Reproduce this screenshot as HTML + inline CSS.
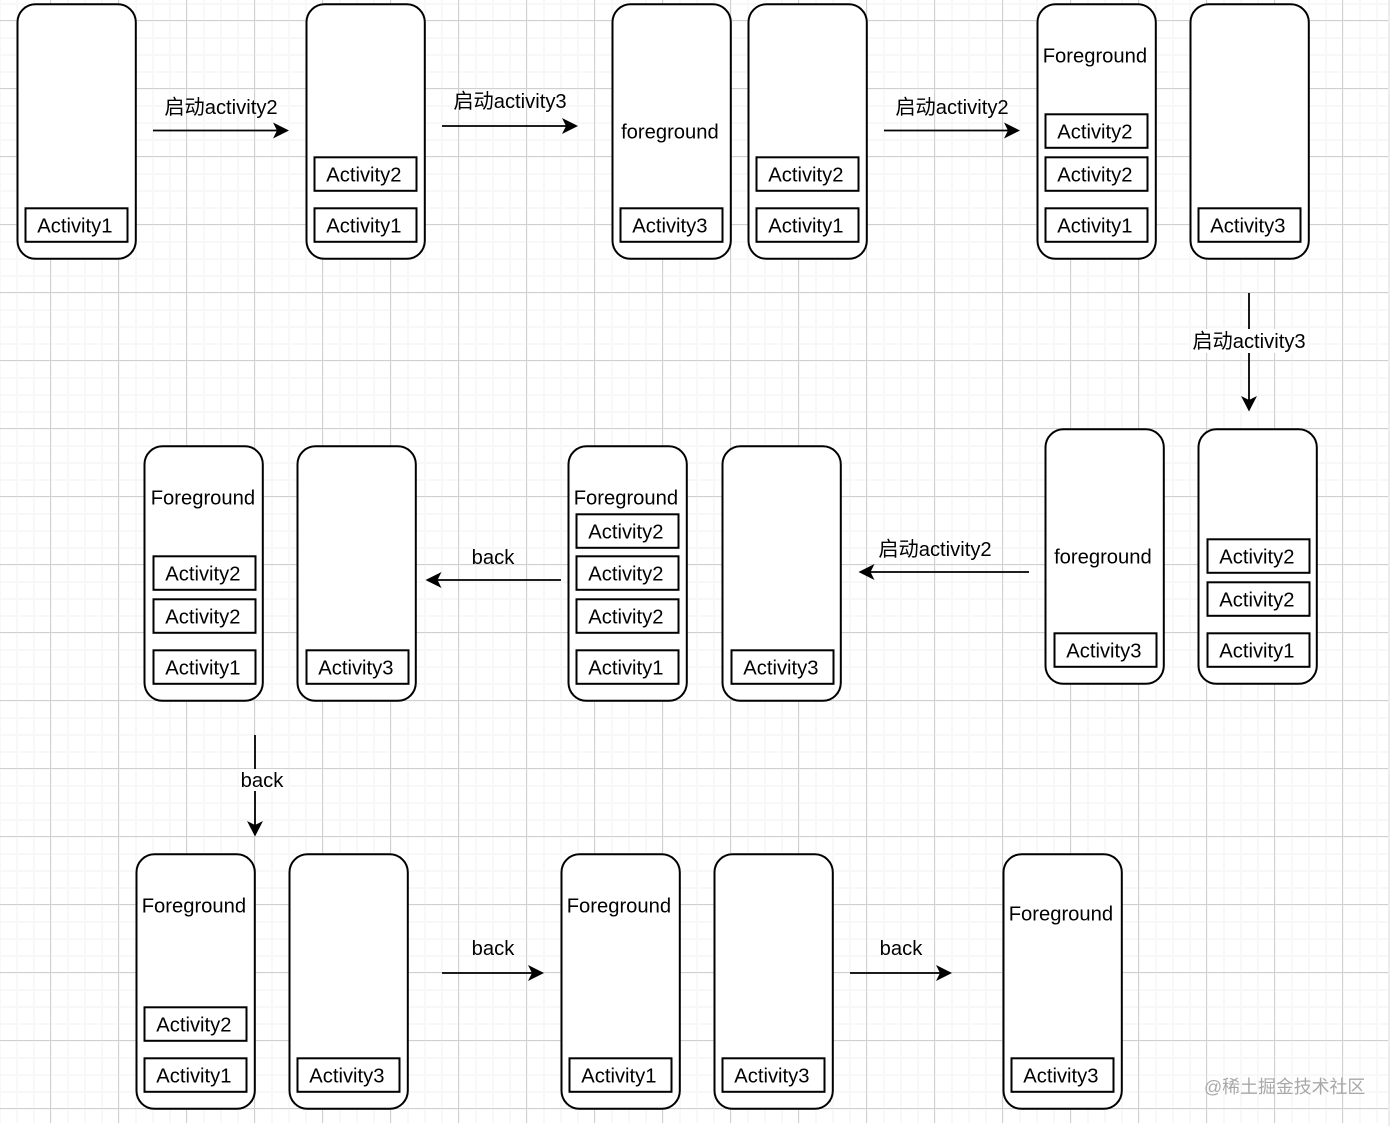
<!DOCTYPE html>
<html>
<head>
<meta charset="utf-8">
<style>
html,body{margin:0;padding:0;background:#fff;}
#g{position:absolute;left:0;top:0;width:1388px;height:1123px;
background-image:
linear-gradient(to right,#d0d0d0 0,#d0d0d0 1px,transparent 1px),
linear-gradient(to bottom,#d0d0d0 0,#d0d0d0 1px,transparent 1px),
linear-gradient(to right,#f8f8f8 0,#f8f8f8 2px,transparent 2px),
linear-gradient(to bottom,#f8f8f8 0,#f8f8f8 2px,transparent 2px);
background-size:68px 68px,68px 68px,17px 17px,17px 17px;
background-position:50px 0,0 20px,50px 0,0 20px;}
#e{position:absolute;left:1388px;top:0;width:2px;height:1126px;background:#ececec;}
svg{position:absolute;left:0;top:0;filter:blur(0.35px);}
text{font-family:"Liberation Sans","Noto Sans CJK SC",sans-serif;font-size:20.2px;fill:#000;text-anchor:middle;}
g text{transform:translate(-0.6px,-0.6px);}
.p{fill:#fff;stroke:#000;stroke-width:2;}
.b{fill:#fff;stroke:#000;stroke-width:2;}
.l{stroke:#000;stroke-width:1.8;fill:none;}
.h{fill:#000;stroke:none;}
.w{font-family:"Liberation Sans","Noto Sans CJK SC",sans-serif;font-size:17.9px;fill:#a8a8a8;text-anchor:start;}
</style>
</head>
<body>
<div id="g"></div><div id="e"></div>
<svg width="1394" height="1126" viewBox="0 0 1394 1126">
<g transform="translate(0.5,0.3)">
<!-- Row 1 phones -->
<rect class="p" x="17" y="4" width="118.300" height="254.500" rx="18"/>
<rect class="b" x="25" y="208" width="102" height="33.500"/><text x="75" y="233">Activity1</text>

<rect class="p" x="306" y="4" width="118.300" height="254.500" rx="18"/>
<rect class="b" x="314" y="157" width="102" height="33.500"/><text x="364" y="182">Activity2</text>
<rect class="b" x="314" y="208" width="102" height="33.500"/><text x="364" y="233">Activity1</text>

<rect class="p" x="612" y="4" width="118.300" height="254.500" rx="18"/>
<text x="670" y="139">foreground</text>
<rect class="b" x="620" y="208" width="102" height="33.500"/><text x="670" y="233">Activity3</text>

<rect class="p" x="748" y="4" width="118.300" height="254.500" rx="18"/>
<rect class="b" x="756" y="157" width="102" height="33.500"/><text x="806" y="182">Activity2</text>
<rect class="b" x="756" y="208" width="102" height="33.500"/><text x="806" y="233">Activity1</text>

<rect class="p" x="1037" y="4" width="118.300" height="254.500" rx="18"/>
<text x="1095" y="63">Foreground</text>
<rect class="b" x="1045" y="114" width="102" height="33.500"/><text x="1095" y="139">Activity2</text>
<rect class="b" x="1045" y="157" width="102" height="33.500"/><text x="1095" y="182">Activity2</text>
<rect class="b" x="1045" y="208" width="102" height="33.500"/><text x="1095" y="233">Activity1</text>

<rect class="p" x="1190" y="4" width="118.300" height="254.500" rx="18"/>
<rect class="b" x="1198" y="208" width="102" height="33.500"/><text x="1248" y="233">Activity3</text>

<!-- Row 2 right -->
<rect class="p" x="1045" y="429" width="118.300" height="254.500" rx="18"/>
<text x="1103" y="564">foreground</text>
<rect class="b" x="1054" y="633" width="102" height="33.500"/><text x="1104" y="658">Activity3</text>

<rect class="p" x="1198" y="429" width="118.300" height="254.500" rx="18"/>
<rect class="b" x="1207" y="539" width="102" height="33.500"/><text x="1257" y="564">Activity2</text>
<rect class="b" x="1207" y="582" width="102" height="33.500"/><text x="1257" y="607">Activity2</text>
<rect class="b" x="1207" y="633" width="102" height="33.500"/><text x="1257" y="658">Activity1</text>

<!-- Row 2 -->
<rect class="p" x="144" y="446" width="118.300" height="254.500" rx="18"/>
<text x="203" y="505">Foreground</text>
<rect class="b" x="153" y="556" width="102" height="33.500"/><text x="203" y="581">Activity2</text>
<rect class="b" x="153" y="599" width="102" height="33.500"/><text x="203" y="624">Activity2</text>
<rect class="b" x="153" y="650" width="102" height="33.500"/><text x="203" y="675">Activity1</text>

<rect class="p" x="297" y="446" width="118.300" height="254.500" rx="18"/>
<rect class="b" x="306" y="650" width="102" height="33.500"/><text x="356" y="675">Activity3</text>

<rect class="p" x="568" y="446" width="118.300" height="254.500" rx="18"/>
<text x="626" y="505">Foreground</text>
<rect class="b" x="576" y="514" width="102" height="33.500"/><text x="626" y="539">Activity2</text>
<rect class="b" x="576" y="556" width="102" height="33.500"/><text x="626" y="581">Activity2</text>
<rect class="b" x="576" y="599" width="102" height="33.500"/><text x="626" y="624">Activity2</text>
<rect class="b" x="576" y="650" width="102" height="33.500"/><text x="626" y="675">Activity1</text>

<rect class="p" x="722" y="446" width="118.300" height="254.500" rx="18"/>
<rect class="b" x="731" y="650" width="102" height="33.500"/><text x="781" y="675">Activity3</text>

<!-- Row 3 -->
<rect class="p" x="136" y="854" width="118.300" height="254.500" rx="18"/>
<text x="194" y="913">Foreground</text>
<rect class="b" x="144" y="1007" width="102" height="33.500"/><text x="194" y="1032">Activity2</text>
<rect class="b" x="144" y="1058" width="102" height="33.500"/><text x="194" y="1083">Activity1</text>

<rect class="p" x="289" y="854" width="118.300" height="254.500" rx="18"/>
<rect class="b" x="297" y="1058" width="102" height="33.500"/><text x="347" y="1083">Activity3</text>

<rect class="p" x="561" y="854" width="118.300" height="254.500" rx="18"/>
<text x="619" y="913">Foreground</text>
<rect class="b" x="569" y="1058" width="102" height="33.500"/><text x="619" y="1083">Activity1</text>

<rect class="p" x="714" y="854" width="118.300" height="254.500" rx="18"/>
<rect class="b" x="722" y="1058" width="102" height="33.500"/><text x="772" y="1083">Activity3</text>

<rect class="p" x="1003" y="854" width="118.300" height="254.500" rx="18"/>
<text x="1061" y="921">Foreground</text>
<rect class="b" x="1011" y="1058" width="102" height="33.500"/><text x="1061" y="1083">Activity3</text>
</g>

<!-- Arrows -->
<path class="l" d="M153 130.500H278"/><path class="h" d="M289 130.500L273 122.500L277 130.500L273 138.500Z"/>
<text x="221" y="114">启动activity2</text>

<path class="l" d="M442 126H567"/><path class="h" d="M578 126L562 118L566 126L562 134Z"/>
<text x="510" y="108">启动activity3</text>

<path class="l" d="M884 130.500H1009"/><path class="h" d="M1020 130.500L1004 122.500L1008 130.500L1004 138.500Z"/>
<text x="952" y="114">启动activity2</text>

<path class="l" d="M1249 293V400"/><path class="h" d="M1249 411.500L1241 396L1249 400L1257 396Z"/>
<rect x="1191" y="329" width="116" height="24" fill="#fff"/>
<text x="1249" y="348">启动activity3</text>

<path class="l" d="M1029 572H870"/><path class="h" d="M858.500 572L874.500 564L870.500 572L874.500 580Z"/>
<text x="935" y="556">启动activity2</text>

<path class="l" d="M561 580H437"/><path class="h" d="M425.500 580L441.500 572L437.500 580L441.500 588Z"/>
<text x="493" y="564">back</text>

<path class="l" d="M255 735V825"/><path class="h" d="M255 836.500L247 821L255 825L263 821Z"/>
<rect x="240" y="769" width="44" height="22" fill="#fff"/>
<text x="262" y="787">back</text>

<path class="l" d="M442 973H533"/><path class="h" d="M544 973L528 965L532 973L528 981Z"/>
<text x="493" y="955">back</text>

<path class="l" d="M850 973H941"/><path class="h" d="M952 973L936 965L940 973L936 981Z"/>
<text x="901" y="955">back</text>

<text class="w" x="1204" y="1093">@稀土掘金技术社区</text>
</svg>
</body>
</html>
